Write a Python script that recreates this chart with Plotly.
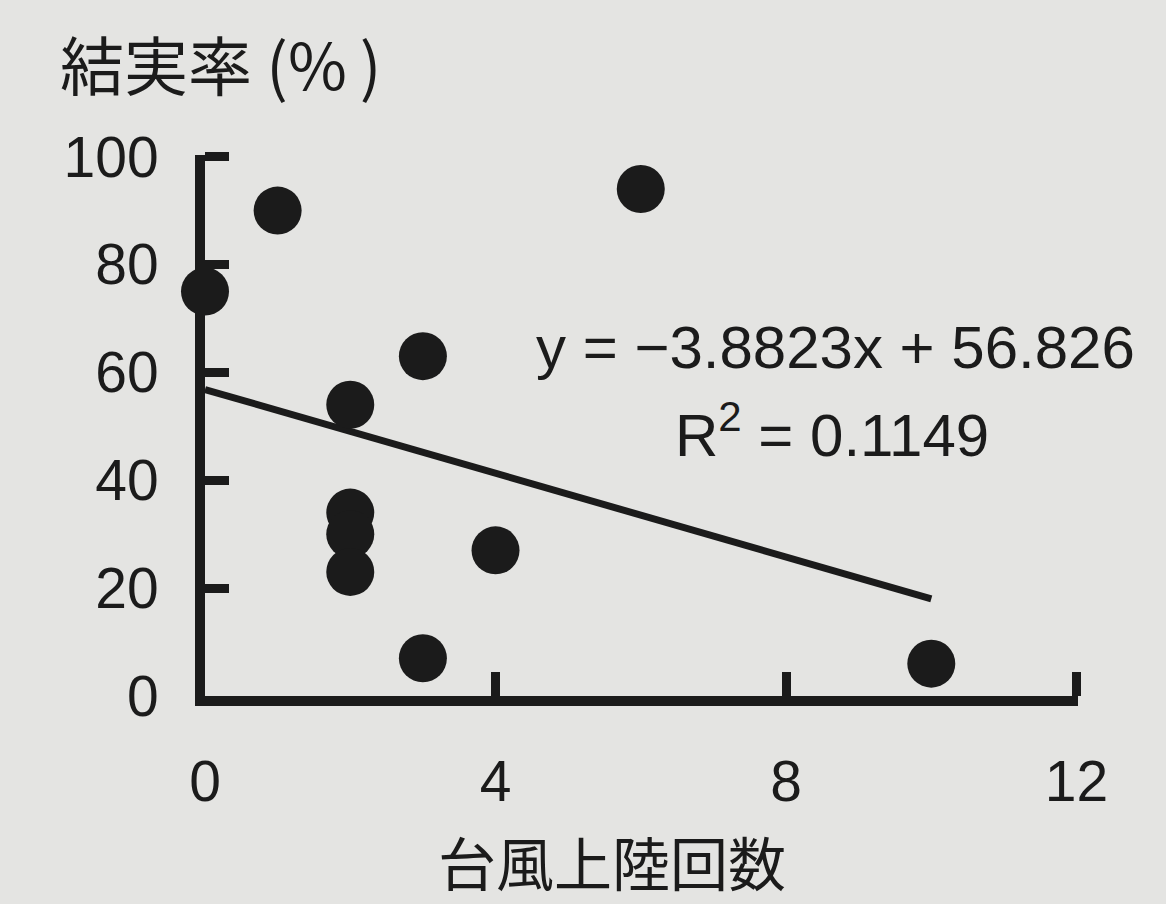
import plotly.graph_objects as go

# ---- data ----
typhoon_landings = [0, 1, 6, 3, 2, 2, 2, 2, 4, 3, 10]
fruit_set_rate = [75, 90, 94, 63, 54, 34, 30, 23, 27, 7, 6]

trend_slope = -3.8823
trend_intercept = 56.826
trend_r2 = 0.1149
trend_x = [0, 10]

x_ticks = [0, 4, 8, 12]
y_ticks = [0, 20, 40, 60, 80, 100]

y_title = "結実率 (%\u2009)"
x_title = "台風上陸回数"

trend_y = [trend_slope * v + trend_intercept for v in trend_x]

INK = "#1b1b1b"
BG = "#e4e4e2"
NUM_FONT = "Liberation Sans, Arial, sans-serif"
CJK_FONT = "Noto Sans CJK JP, sans-serif"

W, H = 1166, 904
L, R, T, B = 205, 88, 155, 208
PW, PH = W - L - R, H - T - B


def px(xpix):
    return (xpix - L) / PW


def py(ypix):
    return (H - B - ypix) / PH


fig = go.Figure()
fig.add_trace(go.Scatter(
    x=trend_x, y=trend_y, mode="lines",
    line=dict(color=INK, width=7), cliponaxis=False, showlegend=False,
    hoverinfo="skip",
))
fig.add_trace(go.Scatter(
    x=typhoon_landings, y=fruit_set_rate, mode="markers",
    marker=dict(size=48, color=INK, line=dict(width=0)),
    cliponaxis=False, showlegend=False,
))

fig.update_layout(
    width=W, height=H,
    paper_bgcolor=BG, plot_bgcolor=BG,
    margin=dict(l=L, r=R, t=T, b=B, pad=0),
    font=dict(family=NUM_FONT, color=INK),
    xaxis=dict(
        range=[0, 12.02], tickvals=x_ticks, ticktext=[str(v) for v in x_ticks],
        showgrid=False, zeroline=False, showline=True, linecolor=INK, linewidth=10,
        ticks="inside", ticklen=24, tickwidth=9, tickcolor=INK,
        tickfont=dict(size=57, family=NUM_FONT, color=INK),
        ticklabelstandoff=27,
    ),
    yaxis=dict(
        range=[0, 100.3], tickvals=y_ticks, ticktext=[str(v) for v in y_ticks],
        showgrid=False, zeroline=False, showline=True, linecolor=INK, linewidth=10,
        ticks="inside", ticklen=24, tickwidth=9, tickcolor=INK,
        tickfont=dict(size=57, family=NUM_FONT, color=INK),
        ticklabelstandoff=25,
    ),
)

fig.add_annotation(
    text=y_title, xref="paper", yref="paper",
    x=px(58), y=py(62), xanchor="left", yanchor="middle",
    showarrow=False, font=dict(size=64, family=CJK_FONT, color=INK),
)
fig.add_annotation(
    text=x_title, xref="paper", yref="paper",
    x=px(612), y=py(861), xanchor="center", yanchor="middle",
    showarrow=False, font=dict(size=58, family=CJK_FONT, color=INK),
)
fig.add_annotation(
    text=f"y = \u2212{abs(trend_slope):.4f}x + {trend_intercept:.3f}",
    xref="paper", yref="paper",
    x=px(835), y=py(347), xanchor="center", yanchor="middle",
    showarrow=False, font=dict(size=60, family=NUM_FONT, color=INK),
)
fig.add_annotation(
    text=f"R<sup>2</sup> = {trend_r2:.4f}",
    xref="paper", yref="paper",
    x=px(832), y=py(431), xanchor="center", yanchor="middle",
    showarrow=False, font=dict(size=60, family=NUM_FONT, color=INK),
)

fig.write_html(
    "out.html",
    config={"displayModeBar": False},
    post_script=(
        "document.documentElement.style.margin='0';"
        "document.body.style.margin='0';"
        "document.body.style.padding='0';"
        "document.documentElement.style.background='#e4e4e2';"
        "document.body.style.background='#e4e4e2';"
    ),
)
